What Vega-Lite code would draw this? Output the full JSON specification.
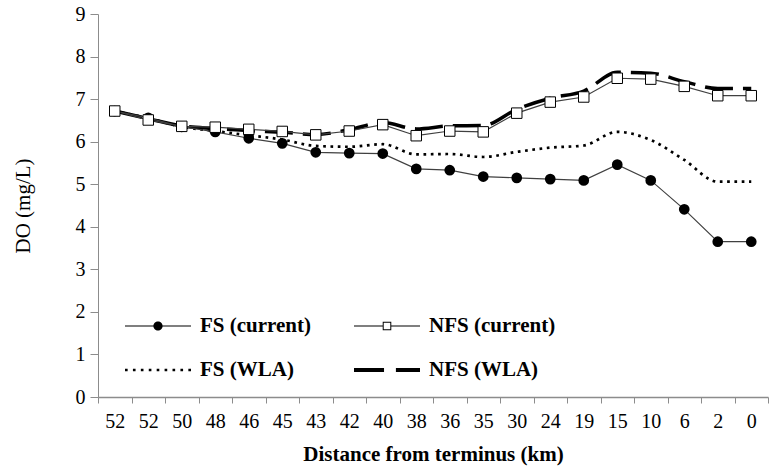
{
  "$schema": "https://vega.github.io/schema/vega-lite/v6.json",
  "autosize": {"type": "none"},
  "width": 670,
  "height": 383,
  "padding": {"left": 98, "top": 14, "right": 1, "bottom": 71},
  "background": "white",
  "config": {
    "view": {"stroke": null},
    "font": "Liberation Serif",
    "axis": {
      "domainColor": "#8c8c8c",
      "tickColor": "#8c8c8c",
      "labelColor": "black",
      "titleColor": "black",
      "labelFont": "Liberation Serif",
      "titleFont": "Liberation Serif",
      "grid": false
    }
  },
  "data": {
    "values": [
      {"i": 1, "km": 52, "series": "FS (current)", "value": 6.72},
      {"i": 2, "km": 52, "series": "FS (current)", "value": 6.56},
      {"i": 3, "km": 50, "series": "FS (current)", "value": 6.35},
      {"i": 4, "km": 48, "series": "FS (current)", "value": 6.23},
      {"i": 5, "km": 46, "series": "FS (current)", "value": 6.08},
      {"i": 6, "km": 45, "series": "FS (current)", "value": 5.96},
      {"i": 7, "km": 43, "series": "FS (current)", "value": 5.75},
      {"i": 8, "km": 42, "series": "FS (current)", "value": 5.73},
      {"i": 9, "km": 40, "series": "FS (current)", "value": 5.72},
      {"i": 10, "km": 38, "series": "FS (current)", "value": 5.36},
      {"i": 11, "km": 36, "series": "FS (current)", "value": 5.33},
      {"i": 12, "km": 35, "series": "FS (current)", "value": 5.18},
      {"i": 13, "km": 30, "series": "FS (current)", "value": 5.15},
      {"i": 14, "km": 24, "series": "FS (current)", "value": 5.12},
      {"i": 15, "km": 19, "series": "FS (current)", "value": 5.09},
      {"i": 16, "km": 15, "series": "FS (current)", "value": 5.46},
      {"i": 17, "km": 10, "series": "FS (current)", "value": 5.09},
      {"i": 18, "km": 6, "series": "FS (current)", "value": 4.41},
      {"i": 19, "km": 2, "series": "FS (current)", "value": 3.65},
      {"i": 20, "km": 0, "series": "FS (current)", "value": 3.65},
      {"i": 1, "km": 52, "series": "NFS (current)", "value": 6.72},
      {"i": 2, "km": 52, "series": "NFS (current)", "value": 6.51},
      {"i": 3, "km": 50, "series": "NFS (current)", "value": 6.36},
      {"i": 4, "km": 48, "series": "NFS (current)", "value": 6.34},
      {"i": 5, "km": 46, "series": "NFS (current)", "value": 6.29},
      {"i": 6, "km": 45, "series": "NFS (current)", "value": 6.24},
      {"i": 7, "km": 43, "series": "NFS (current)", "value": 6.16},
      {"i": 8, "km": 42, "series": "NFS (current)", "value": 6.25},
      {"i": 9, "km": 40, "series": "NFS (current)", "value": 6.4},
      {"i": 10, "km": 38, "series": "NFS (current)", "value": 6.14},
      {"i": 11, "km": 36, "series": "NFS (current)", "value": 6.25},
      {"i": 12, "km": 35, "series": "NFS (current)", "value": 6.23},
      {"i": 13, "km": 30, "series": "NFS (current)", "value": 6.67},
      {"i": 14, "km": 24, "series": "NFS (current)", "value": 6.93},
      {"i": 15, "km": 19, "series": "NFS (current)", "value": 7.05},
      {"i": 16, "km": 15, "series": "NFS (current)", "value": 7.49},
      {"i": 17, "km": 10, "series": "NFS (current)", "value": 7.47},
      {"i": 18, "km": 6, "series": "NFS (current)", "value": 7.3},
      {"i": 19, "km": 2, "series": "NFS (current)", "value": 7.08},
      {"i": 20, "km": 0, "series": "NFS (current)", "value": 7.08},
      {"i": 1, "km": 52, "series": "FS (WLA)", "value": 6.72},
      {"i": 2, "km": 52, "series": "FS (WLA)", "value": 6.55},
      {"i": 3, "km": 50, "series": "FS (WLA)", "value": 6.35},
      {"i": 4, "km": 48, "series": "FS (WLA)", "value": 6.25},
      {"i": 5, "km": 46, "series": "FS (WLA)", "value": 6.15},
      {"i": 6, "km": 45, "series": "FS (WLA)", "value": 6.05},
      {"i": 7, "km": 43, "series": "FS (WLA)", "value": 5.9},
      {"i": 8, "km": 42, "series": "FS (WLA)", "value": 5.88},
      {"i": 9, "km": 40, "series": "FS (WLA)", "value": 5.94},
      {"i": 10, "km": 38, "series": "FS (WLA)", "value": 5.7},
      {"i": 11, "km": 36, "series": "FS (WLA)", "value": 5.71},
      {"i": 12, "km": 35, "series": "FS (WLA)", "value": 5.64},
      {"i": 13, "km": 30, "series": "FS (WLA)", "value": 5.76},
      {"i": 14, "km": 24, "series": "FS (WLA)", "value": 5.86},
      {"i": 15, "km": 19, "series": "FS (WLA)", "value": 5.91},
      {"i": 16, "km": 15, "series": "FS (WLA)", "value": 6.23},
      {"i": 17, "km": 10, "series": "FS (WLA)", "value": 6.04},
      {"i": 18, "km": 6, "series": "FS (WLA)", "value": 5.57},
      {"i": 19, "km": 2, "series": "FS (WLA)", "value": 5.06},
      {"i": 20, "km": 0, "series": "FS (WLA)", "value": 5.06},
      {"i": 1, "km": 52, "series": "NFS (WLA)", "value": 6.72},
      {"i": 2, "km": 52, "series": "NFS (WLA)", "value": 6.54},
      {"i": 3, "km": 50, "series": "NFS (WLA)", "value": 6.37},
      {"i": 4, "km": 48, "series": "NFS (WLA)", "value": 6.31},
      {"i": 5, "km": 46, "series": "NFS (WLA)", "value": 6.26},
      {"i": 6, "km": 45, "series": "NFS (WLA)", "value": 6.22},
      {"i": 7, "km": 43, "series": "NFS (WLA)", "value": 6.17},
      {"i": 8, "km": 42, "series": "NFS (WLA)", "value": 6.28},
      {"i": 9, "km": 40, "series": "NFS (WLA)", "value": 6.45},
      {"i": 10, "km": 38, "series": "NFS (WLA)", "value": 6.3},
      {"i": 11, "km": 36, "series": "NFS (WLA)", "value": 6.37},
      {"i": 12, "km": 35, "series": "NFS (WLA)", "value": 6.38},
      {"i": 13, "km": 30, "series": "NFS (WLA)", "value": 6.76},
      {"i": 14, "km": 24, "series": "NFS (WLA)", "value": 7.02},
      {"i": 15, "km": 19, "series": "NFS (WLA)", "value": 7.19},
      {"i": 16, "km": 15, "series": "NFS (WLA)", "value": 7.63},
      {"i": 17, "km": 10, "series": "NFS (WLA)", "value": 7.61},
      {"i": 18, "km": 6, "series": "NFS (WLA)", "value": 7.41},
      {"i": 19, "km": 2, "series": "NFS (WLA)", "value": 7.25},
      {"i": 20, "km": 0, "series": "NFS (WLA)", "value": 7.25}
    ]
  },
  "encoding": {
    "x": {
      "field": "i",
      "type": "ordinal",
      "scale": {"type": "band", "paddingInner": 0, "paddingOuter": 0},
      "axis": {
        "title": "Distance from terminus (km)",
        "titleFontSize": 21,
        "titleFontWeight": "bold",
        "titlePadding": 12,
        "labelExpr": "['52','52','50','48','46','45','43','42','40','38','36','35','30','24','19','15','10','6','2','0'][datum.value - 1]",
        "labelAngle": 0,
        "labelFontSize": 20,
        "labelPadding": 8,
        "tickBand": "extent",
        "tickSize": 6,
        "domainWidth": 1.5
      }
    },
    "y": {
      "field": "value",
      "type": "quantitative",
      "scale": {"domain": [0, 9], "nice": false},
      "axis": {
        "title": "DO (mg/L)",
        "titleFontSize": 21,
        "titleFontWeight": "normal",
        "titlePadding": 42,
        "values": [0, 1, 2, 3, 4, 5, 6, 7, 8, 9],
        "labelFontSize": 20,
        "labelPadding": 5,
        "tickSize": 8
      }
    }
  },
  "layer": [
    {
      "transform": [{"filter": "datum.series === 'FS (WLA)'"}],
      "mark": {"type": "line", "interpolate": "monotone", "color": "black", "strokeWidth": 2.7, "strokeDash": [2.7, 4.6]}
    },
    {
      "transform": [{"filter": "datum.series === 'NFS (WLA)'"}],
      "mark": {"type": "line", "interpolate": "monotone", "color": "black", "strokeWidth": 3.5, "strokeDash": [28, 10]}
    },
    {
      "transform": [{"filter": "datum.series === 'FS (current)'"}],
      "mark": {"type": "line", "color": "#404040", "strokeWidth": 1.2}
    },
    {
      "transform": [{"filter": "datum.series === 'NFS (current)'"}],
      "mark": {"type": "line", "color": "#404040", "strokeWidth": 1.2}
    },
    {
      "transform": [{"filter": "datum.series === 'FS (current)'"}],
      "mark": {"type": "point", "shape": "circle", "filled": true, "color": "black", "size": 115, "opacity": 1}
    },
    {
      "transform": [{"filter": "datum.series === 'NFS (current)'"}],
      "mark": {"type": "point", "shape": "square", "filled": false, "fill": "white", "stroke": "black", "strokeWidth": 1, "size": 110, "opacity": 1}
    },
    {
      "transform": [{"filter": "false"}],
      "mark": {"type": "point", "filled": true, "color": "black", "strokeWidth": 0},
      "encoding": {
        "shape": {
          "field": "series",
          "type": "nominal",
          "scale": {
            "domain": ["FS (current)", "NFS (current)", "FS (WLA)", "NFS (WLA)"],
            "range": [
              "M-1,-0.018H1V0.018H-1Z M0.14,0A0.14,0.14 0 1,1 -0.14,0A0.14,0.14 0 1,1 0.14,0Z",
              "M-1,-0.018H-0.13V0.018H-1Z M0.13,-0.018H1V0.018H0.13Z M-0.13,-0.13H0.13V0.13H-0.13Z M-0.1,-0.1V0.1H0.1V-0.1Z",
              "M-1,-0.04h0.08v0.08h-0.08Z M-0.76,-0.04h0.08v0.08h-0.08Z M-0.52,-0.04h0.08v0.08h-0.08Z M-0.28,-0.04h0.08v0.08h-0.08Z M-0.04,-0.04h0.08v0.08h-0.08Z M0.2,-0.04h0.08v0.08h-0.08Z M0.44,-0.04h0.08v0.08h-0.08Z M0.68,-0.04h0.08v0.08h-0.08Z M0.92,-0.04h0.08v0.08h-0.08Z",
              "M-1,-0.06H-0.09V0.06H-1Z M0.27,-0.06H1V0.06H0.27Z"
            ]
          },
          "legend": {
            "title": null,
            "orient": "none",
            "legendX": 27,
            "legendY": 279,
            "direction": "horizontal",
            "columns": 2,
            "symbolSize": 4356,
            "symbolFillColor": "black",
            "symbolStrokeWidth": 0,
            "symbolOpacity": 1,
            "labelFont": "Liberation Serif",
            "labelFontSize": 21,
            "labelFontWeight": "bold",
            "labelColor": "black",
            "labelOffset": 9,
            "labelLimit": 300,
            "columnPadding": 43,
            "rowPadding": 1
          }
        }
      }
    }
  ]
}
